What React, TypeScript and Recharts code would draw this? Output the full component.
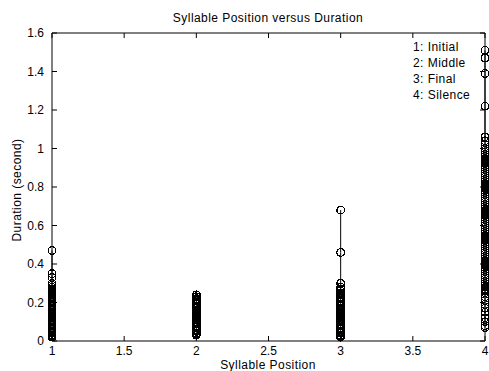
import { ScatterChart, Scatter, XAxis, YAxis } from 'recharts';

// duration (s) of each syllable, grouped by position
const initialDurations = [
  0.02, 0.025, 0.03, 0.04, 0.045, 0.05, 0.06, 0.065, 0.07, 0.08, 0.085, 0.09, 0.1, 0.105, 0.11,
  0.12, 0.125, 0.13, 0.14, 0.145, 0.15, 0.16, 0.165, 0.17, 0.18, 0.185, 0.19, 0.2, 0.205, 0.21,
  0.22, 0.225, 0.23, 0.24, 0.245, 0.25, 0.26, 0.265, 0.27, 0.28, 0.29, 0.3, 0.33, 0.35, 0.47,
];
const middleDurations = [
  0.03, 0.035, 0.04, 0.05, 0.055, 0.06, 0.07, 0.075, 0.08, 0.09, 0.095, 0.1, 0.11, 0.115, 0.12,
  0.13, 0.135, 0.14, 0.15, 0.155, 0.16, 0.17, 0.175, 0.18, 0.19, 0.195, 0.2, 0.21, 0.215, 0.22,
  0.23, 0.24,
];
const finalDurations = [
  0.02, 0.025, 0.03, 0.04, 0.045, 0.05, 0.06, 0.065, 0.07, 0.08, 0.085, 0.09, 0.1, 0.105, 0.11,
  0.12, 0.125, 0.13, 0.14, 0.145, 0.15, 0.16, 0.165, 0.17, 0.18, 0.185, 0.19, 0.2, 0.205, 0.21,
  0.22, 0.225, 0.23, 0.24, 0.245, 0.25, 0.26, 0.27, 0.28, 0.3, 0.46, 0.68,
];
const silenceDurations = [
  0.07, 0.08, 0.1, 0.12, 0.15, 0.17, 0.19, 0.21, 0.23, 0.25, 0.26, 0.27, 0.28, 0.29, 0.3, 0.31,
  0.32, 0.33, 0.34, 0.35, 0.36, 0.37, 0.38, 0.39, 0.4, 0.41, 0.42, 0.43, 0.44, 0.45, 0.46, 0.47,
  0.48, 0.49, 0.5, 0.51, 0.52, 0.53, 0.54, 0.55, 0.56, 0.57, 0.58, 0.59, 0.6, 0.61, 0.62, 0.63,
  0.64, 0.65, 0.66, 0.67, 0.68, 0.69, 0.7, 0.71, 0.72, 0.73, 0.74, 0.75, 0.76, 0.77, 0.78, 0.79,
  0.8, 0.81, 0.82, 0.83, 0.84, 0.85, 0.86, 0.87, 0.88, 0.89, 0.9, 0.91, 0.92, 0.93, 0.94, 0.95,
  0.96, 0.97, 0.98, 0.99, 1.0, 1.02, 1.04, 1.06, 1.22, 1.39, 1.47, 1.51,
];

const positions = [1, 2, 3, 4];
const groups = [initialDurations, middleDurations, finalDurations, silenceDurations];
const legendLabels = ['1: Initial', '2: Middle', '3: Final', '4: Silence'];

const xTicks = [1, 1.5, 2, 2.5, 3, 3.5, 4];
const yTicks = [0, 0.2, 0.4, 0.6, 0.8, 1, 1.2, 1.4, 1.6];

const font = 'Arial, "Liberation Sans", Helvetica, sans-serif';
const tickStyle = { fill: '#000', fontSize: 12, fontFamily: font };
const noLabel = () => <g />;

const Ring = (props: any) => (
  <circle
    cx={props.cx}
    cy={props.cy}
    r={3.8}
    fill="none"
    stroke="#000"
    strokeWidth={1.25}
    shapeRendering="crispEdges"
  />
);

const App = () => {
  return (
    <div style={{ position: 'absolute', left: 0, top: 0, width: 489, height: 371, background: '#fff' }}>
      <ScatterChart width={489} height={371} margin={{ top: 32, right: 3, bottom: 0, left: 0 }}>
        <XAxis
          type="number"
          dataKey="x"
          domain={[1, 4]}
          ticks={xTicks}
          height={30}
          tick={tickStyle}
          tickSize={-5}
          tickMargin={10}
          axisLine={{ stroke: '#000' }}
          tickLine={{ stroke: '#000' }}
        />
        {/* top and right copies of the axes close the box, as in the matlab figure */}
        <XAxis
          xAxisId="top"
          orientation="top"
          type="number"
          dataKey="x"
          domain={[1, 4]}
          ticks={xTicks}
          height={1}
          tick={noLabel}
          tickSize={-5}
          axisLine={{ stroke: '#000' }}
          tickLine={{ stroke: '#000' }}
        />
        <YAxis
          type="number"
          dataKey="y"
          domain={[0, 1.6]}
          ticks={yTicks}
          width={52}
          tick={tickStyle}
          tickSize={-5}
          tickMargin={13}
          axisLine={{ stroke: '#000' }}
          tickLine={{ stroke: '#000' }}
        />
        <YAxis
          yAxisId="right"
          orientation="right"
          type="number"
          dataKey="y"
          domain={[0, 1.6]}
          ticks={yTicks}
          width={1}
          tick={noLabel}
          tickSize={-5}
          axisLine={{ stroke: '#000' }}
          tickLine={{ stroke: '#000' }}
        />
        {groups.map((values, i) => (
          <Scatter
            key={positions[i]}
            xAxisId={i % 2 ? 'top' : 0}
            yAxisId={i % 2 ? 'right' : 0}
            data={values.map((y) => ({ x: positions[i], y }))}
            shape={Ring}
            line={{ stroke: '#000', strokeWidth: 1 }}
            lineType="joint"
            isAnimationActive={false}
          />
        ))}
      </ScatterChart>
      <svg
        width={489}
        height={371}
        style={{ position: 'absolute', left: 0, top: 0, pointerEvents: 'none' }}
        fontFamily={font}
        fontSize={12}
        letterSpacing={0.45}
      >
        <text x={268} y={22} textAnchor="middle" fill="#000">
          Syllable Position versus Duration
        </text>
        <text x={268} y={369} textAnchor="middle" fill="#000">
          Syllable Position
        </text>
        <text x={0} y={0} transform="translate(21,190) rotate(-90)" textAnchor="middle" fill="#000">
          Duration (second)
        </text>
        {legendLabels.map((label, i) => (
          <text key={label} x={413} y={51 + i * 16} fill="#000">
            {label}
          </text>
        ))}
      </svg>
    </div>
  );
};

export default App;
